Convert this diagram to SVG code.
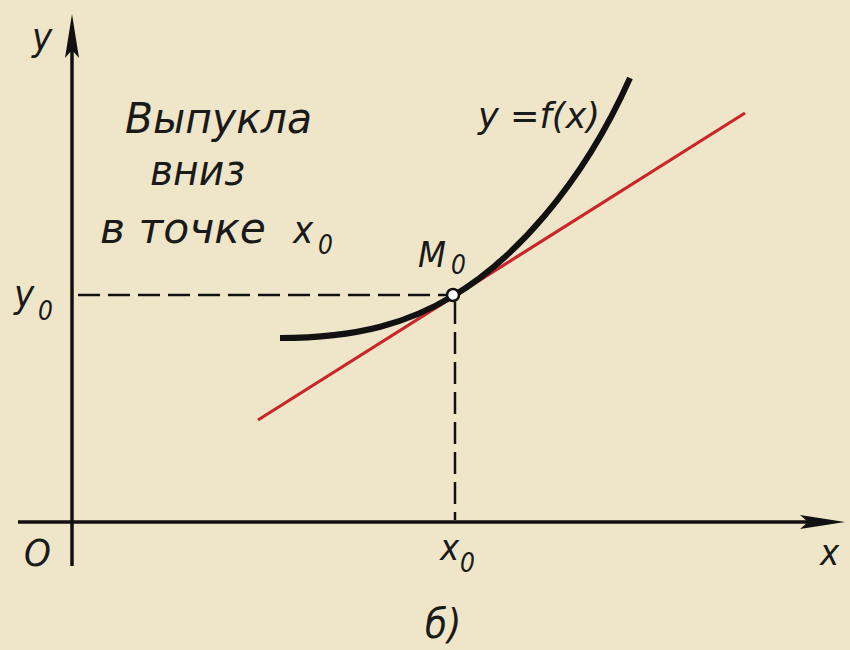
<svg xmlns="http://www.w3.org/2000/svg" width="850" height="650" viewBox="0 0 850 650">
<style>
.t{font-family:"DejaVu Sans Condensed","Liberation Sans Narrow","Liberation Sans",sans-serif;font-style:italic;fill:#1a1a1a;}
.axis{stroke:#111;stroke-width:3.5;fill:none;}
.dash{stroke:#111;stroke-width:2.5;stroke-dasharray:22 8;fill:none;}
</style>
<rect width="850" height="650" fill="#efe6c9"/>
<g id="axes">
<line class="axis" x1="72" y1="40" x2="72" y2="566"/>
<path d="M72 14 L79 58 L72 50 L65 58 Z" fill="#111"/>
<line class="axis" x1="18" y1="522" x2="815" y2="522"/>
<path d="M845 522 L800 515 L808 522 L800 529 Z" fill="#111"/>
</g>
<g id="guides">
<line class="dash" x1="78" y1="295" x2="448" y2="295"/>
<line class="dash" x1="455" y1="302" x2="455" y2="520"/>
</g>
<g id="tangent">
<line x1="258" y1="420" x2="745" y2="113" stroke="#c8262a" stroke-width="3.2"/>
</g>
<g id="curve">
<path d="M280 338 C360 338 410 322 453 296 C510 262 580 190 630 78" stroke="#111" stroke-width="6" fill="none"/>
</g>
<g id="point">
<circle cx="453" cy="295" r="6" fill="#fff" stroke="#111" stroke-width="2.5"/>
</g>
<g id="labels">
<text class="t" x="32" y="50" font-size="38">y</text>
<text class="t" x="125" y="133" font-size="42" textLength="187" lengthAdjust="spacingAndGlyphs">Выпукла</text>
<text class="t" x="150" y="185" font-size="42" textLength="95" lengthAdjust="spacingAndGlyphs">вниз</text>
<text class="t" x="100" y="243" font-size="42" textLength="166" lengthAdjust="spacingAndGlyphs">в точке</text>
<text class="t" x="293" y="243" font-size="38">x</text>
<text class="t" x="318" y="254" font-size="26">0</text>
<text class="t" x="478" y="128" font-size="36" textLength="122" lengthAdjust="spacingAndGlyphs">y =f(x)</text>
<text class="t" x="418" y="267" font-size="36">M</text>
<text class="t" x="451" y="274" font-size="26">0</text>
<text class="t" x="14" y="307" font-size="38">y</text>
<text class="t" x="38" y="320" font-size="26">0</text>
<text class="t" x="24" y="566" font-size="38">O</text>
<text class="t" x="440" y="560" font-size="36">x</text>
<text class="t" x="460" y="572" font-size="26">0</text>
<text class="t" x="820" y="565" font-size="36">x</text>
<text class="t" x="425" y="638" font-size="40">б)</text>
</g>
</svg>
